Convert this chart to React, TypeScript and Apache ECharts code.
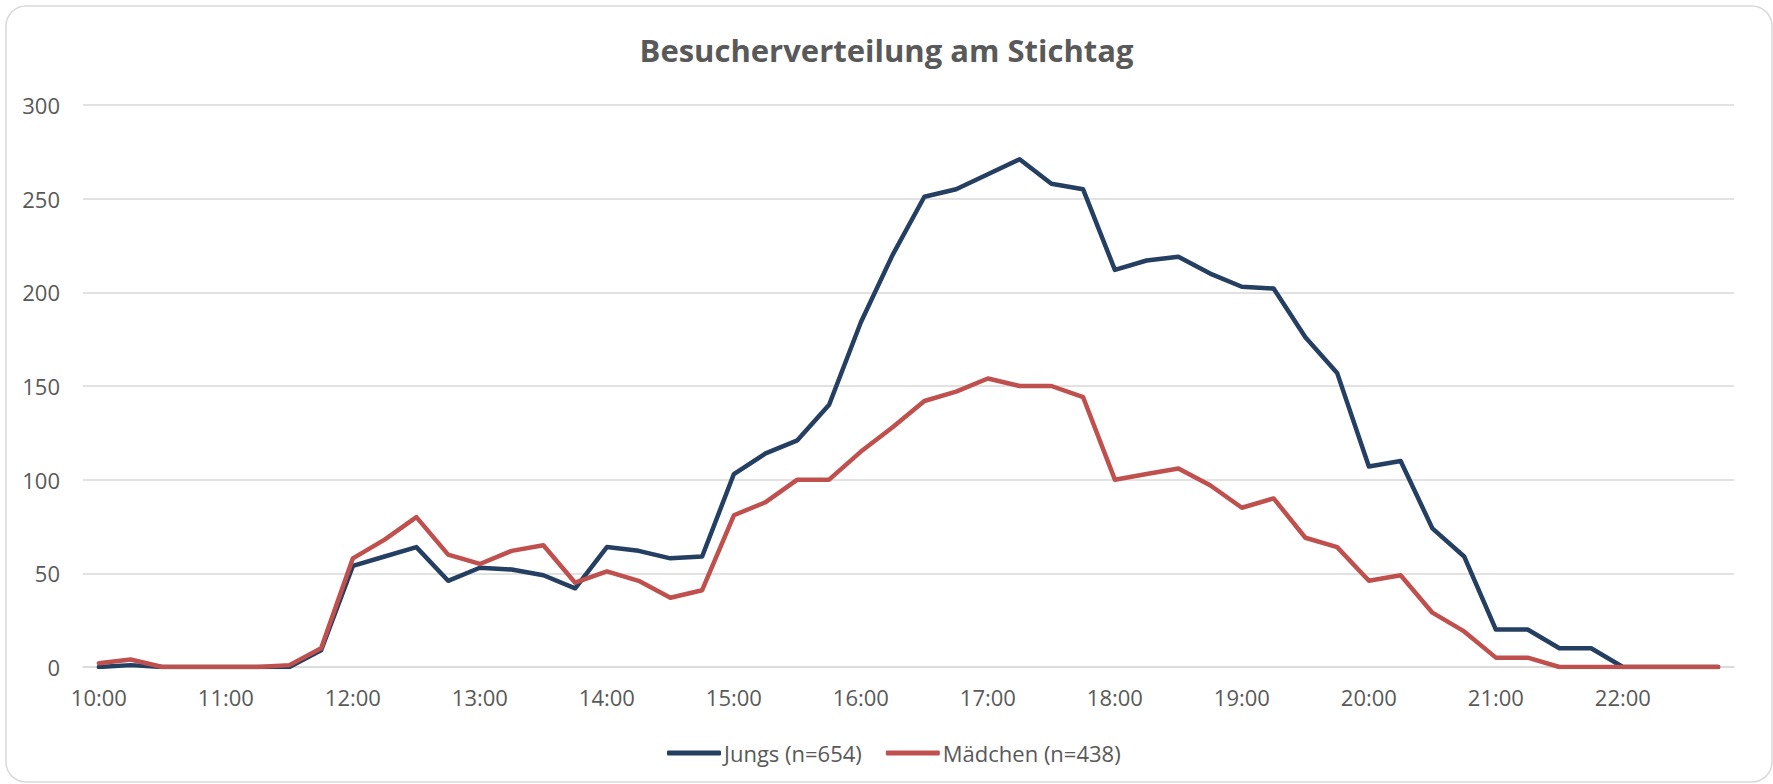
import React, { useEffect, useRef } from "react";
import * as echarts from "echarts";

const TITLE = "Besucherverteilung am Stichtag";

const categories: string[] = [
  "10:00", "10:15", "10:30", "10:45",
  "11:00", "11:15", "11:30", "11:45",
  "12:00", "12:15", "12:30", "12:45",
  "13:00", "13:15", "13:30", "13:45",
  "14:00", "14:15", "14:30", "14:45",
  "15:00", "15:15", "15:30", "15:45",
  "16:00", "16:15", "16:30", "16:45",
  "17:00", "17:15", "17:30", "17:45",
  "18:00", "18:15", "18:30", "18:45",
  "19:00", "19:15", "19:30", "19:45",
  "20:00", "20:15", "20:30", "20:45",
  "21:00", "21:15", "21:30", "21:45",
  "22:00", "22:15", "22:30", "22:45",
];

const jungs: number[] = [
  0, 1, 0, 0,
  0, 0, 0, 9,
  54, 59, 64, 46,
  53, 52, 49, 42,
  64, 62, 58, 59,
  103, 114, 121, 140,
  184, 220, 251, 255,
  263, 271, 258, 255,
  212, 217, 219, 210,
  203, 202, 176, 157,
  107, 110, 74, 59,
  20, 20, 10, 10,
  0, 0, 0, 0,
];

const maedchen: number[] = [
  2, 4, 0, 0,
  0, 0, 1, 10,
  58, 68, 80, 60,
  55, 62, 65, 45,
  51, 46, 37, 41,
  81, 88, 100, 100,
  115, 128, 142, 147,
  154, 150, 150, 144,
  100, 103, 106, 97,
  85, 90, 69, 64,
  46, 49, 29, 19,
  5, 5, 0, 0,
  0, 0, 0, 0,
];

const seriesNames = ["Jungs (n=654)", "Mädchen (n=438)"];
const colors = ["#243F62", "#C0504D"];

export default function App() {
  const ref = useRef<HTMLDivElement>(null);

  useEffect(() => {
    if (!ref.current) return;
    const chart = echarts.init(ref.current, undefined, { renderer: "svg" });
    const font = "'Open Sans', 'Noto Sans', sans-serif";
    chart.setOption({
      animation: false,
      backgroundColor: "#ffffff",
      textStyle: { fontFamily: font },
      title: {
        text: TITLE,
        left: "center",
        top: 29,
        textStyle: {
          fontFamily: font,
          fontSize: 31,
          fontWeight: "bold",
          color: "#595959",
        },
      },
      legend: {
        top: 737,
        left: 662,
        itemWidth: 54,
        itemHeight: 5,
        itemGap: 24,
        icon: "roundRect",
        textStyle: { fontFamily: font, fontSize: 22, color: "#595959", padding: [0, 0, 0, -2] },
        data: seriesNames,
      },
      grid: { left: 83, right: 39, top: 105, bottom: 117, containLabel: false },
      xAxis: {
        type: "category",
        data: categories,
        boundaryGap: true,
        axisLine: { show: true, lineStyle: { color: "#d9d9d9", width: 1.5 } },
        axisTick: { show: false },
        axisLabel: {
          interval: 3,
          margin: 19,
          fontFamily: font,
          fontSize: 22,
          color: "#595959",
        },
        splitLine: { show: false },
      },
      yAxis: {
        type: "value",
        min: 0,
        max: 300,
        interval: 50,
        axisLine: { show: false },
        axisTick: { show: false },
        axisLabel: { margin: 23, fontFamily: font, fontSize: 22, color: "#595959" },
        splitLine: { show: true, lineStyle: { color: "#d9d9d9", width: 1.5 } },
      },
      series: [
        {
          name: seriesNames[0],
          type: "line",
          data: jungs,
          symbol: "none",
          color: colors[0],
          lineStyle: { width: 4.5, color: colors[0], cap: "round", join: "round" },
          z: 2,
        },
        {
          name: seriesNames[1],
          type: "line",
          data: maedchen,
          symbol: "none",
          color: colors[1],
          lineStyle: { width: 4.5, color: colors[1], cap: "round", join: "round" },
          z: 3,
        },
      ],
      graphic: [
        {
          type: "rect",
          silent: true,
          shape: { x: 6, y: 6, width: 1766, height: 776, r: 20 },
          style: { fill: "none", stroke: "#d9d9d9", lineWidth: 1.5 },
          z: -1,
        },
      ],
    });
    return () => chart.dispose();
  }, []);

  return (
    <div
      ref={ref}
      style={{ position: "absolute", left: 0, top: 0, width: 1773, height: 784, background: "#fff" }}
    />
  );
}
